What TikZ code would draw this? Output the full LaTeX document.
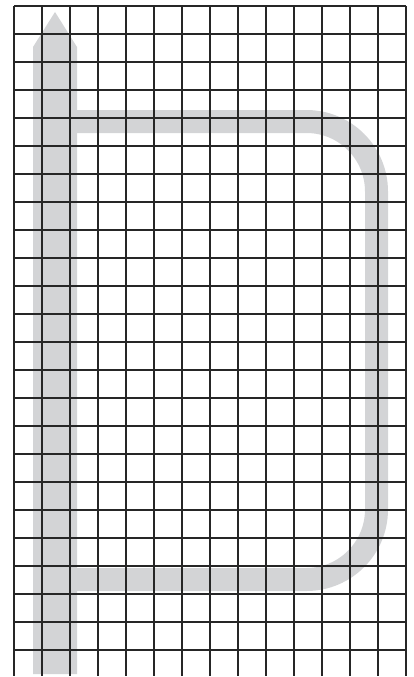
\documentclass[tikz,border=0pt]{standalone}
\usepackage{tikz}
\usetikzlibrary{positioning,calc}

\definecolor{bandgray}{RGB}{211,212,214}

\begin{document}
\begin{tikzpicture}[x=1pt,y=-1pt,
		gridline/.style={draw=black!85,line width=1.3pt},
		loopband/.style={draw=bandgray,line width=23pt,rounded corners=70pt},
		stemband/.style={fill=bandgray,draw=none},
		]
		
		\useasboundingbox (0,0) rectangle (414,677);
		
		% Route points
		\coordinate (tip) at (55,12);
		\coordinate (foot) at (55,674);
		\coordinate (upper) at (66,121.5);
		\coordinate (lower) at (66,579.5);
		\coordinate (ne) at (376.5,121.5);
		\coordinate (se) at (376.5,579.5);
		
		% Loop
		\draw[loopband] (upper) -- (ne) -- (se) -- (lower);
		
		% Stem with arrow point
		\fill[stemband] ($(foot)+(-22,0)$) -- ($(tip)+(-22,35)$) -- (tip)
		-- ($(tip)+(22,35)$) -- ($(foot)+(22,0)$) -- cycle;
		
		% Grid
		\foreach \i in {0,...,14}
		\draw[gridline] (14+28*\i,6) -- (14+28*\i,676);
		\foreach \j in {0,...,23}
		\draw[gridline] (14,6+28*\j) -- (406,6+28*\j);
		
	\end{tikzpicture}
\end{document}
